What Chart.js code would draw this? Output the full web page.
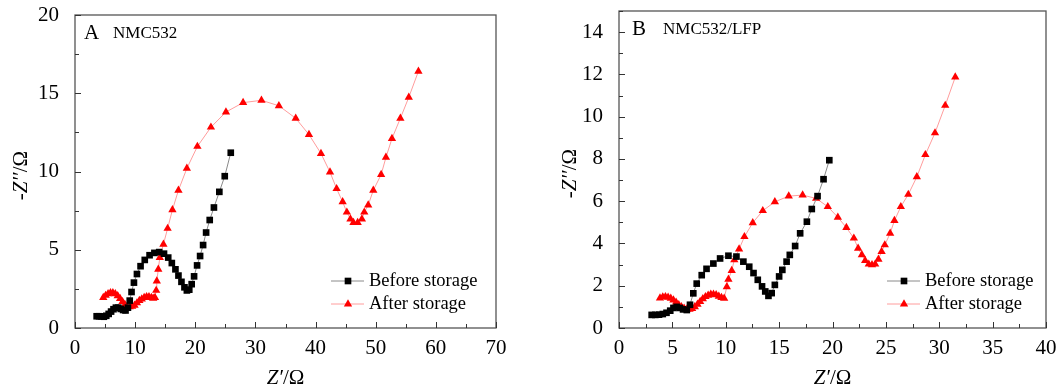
<!DOCTYPE html>
<html>
<head>
<meta charset="utf-8">
<script src="https://cdn.jsdelivr.net/npm/chart.js@4.4.0/dist/chart.umd.min.js"></script>
<style>
  body { margin: 0; background: #fff; }
  #wrap { position: relative; width: 1062px; height: 389px; }
  .box { position: absolute; top: 0; height: 389px; }
</style>
</head>
<body>
<div id="wrap">
  <div class="box" style="left:0;width:520px"><canvas id="chartA"></canvas></div>
  <div class="box" style="left:540px;width:522px"><canvas id="chartB"></canvas></div>
</div>
<script>
// Panel A: NMC532
const beforeX_A = [3.6, 4.0, 4.4, 4.8, 5.2, 5.6, 6.0, 6.4, 6.8, 7.2, 7.6, 8.0, 8.4, 8.8, 9.1, 9.4, 9.8, 10.3, 10.9, 11.6, 12.4, 13.2, 14.0, 14.8, 15.5, 16.1, 16.7, 17.2, 17.7, 18.2, 18.6, 19.0, 19.4, 19.8, 20.3, 20.8, 21.3, 21.8, 22.4, 23.1, 24.0, 24.9, 25.9];
const beforeY_A = [0.75, 0.75, 0.74, 0.72, 0.78, 0.9, 1.05, 1.2, 1.3, 1.3, 1.22, 1.15, 1.12, 1.3, 1.75, 2.3, 2.9, 3.45, 3.95, 4.35, 4.65, 4.8, 4.85, 4.75, 4.5, 4.15, 3.75, 3.35, 2.95, 2.6, 2.4, 2.45, 2.8, 3.3, 4.0, 4.6, 5.3, 6.1, 6.9, 7.7, 8.7, 9.7, 11.2];
const afterX_A = [4.7, 5.1, 5.5, 5.9, 6.3, 6.7, 7.1, 7.5, 7.9, 8.3, 8.7, 9.1, 9.5, 9.9, 10.3, 10.7, 11.1, 11.5, 11.9, 12.3, 12.7, 13.0, 13.3, 13.5, 13.6, 13.85, 14.1, 14.7, 15.4, 16.2, 17.2, 18.6, 20.35, 22.6, 25.1, 27.95, 31.0, 33.9, 36.7, 38.9, 40.9, 42.4, 43.5, 44.5, 45.2, 45.8, 46.3, 47.0, 47.7, 48.1, 48.75, 49.6, 50.9, 51.7, 52.7, 54.1, 55.5, 57.1];
const afterY_A = [1.95, 2.08, 2.18, 2.25, 2.25, 2.18, 2.05, 1.88, 1.68, 1.5, 1.4, 1.35, 1.38, 1.45, 1.6, 1.75, 1.85, 1.95, 2.0, 2.0, 1.95, 1.9, 1.95, 2.4, 3.0, 3.75, 4.5, 5.35, 6.36, 7.55, 8.8, 10.2, 11.6, 12.83, 13.8, 14.4, 14.55, 14.2, 13.4, 12.36, 11.15, 9.96, 8.9, 8.06, 7.4, 6.96, 6.74, 6.74, 6.96, 7.4, 7.85, 8.8, 9.8, 10.9, 12.1, 13.4, 14.74, 16.4];

// Panel B: NMC532/LFP
const beforeX_B = [3.06, 3.4, 3.75, 4.1, 4.45, 4.8, 5.1, 5.4, 5.7, 6.0, 6.35, 6.65, 6.96, 7.28, 7.75, 8.2, 8.84, 9.47, 10.25, 11.0, 11.65, 12.2, 12.6, 13.0, 13.4, 13.7, 14.0, 14.3, 14.6, 15.0, 15.3, 15.7, 16.0, 16.5, 16.97, 17.6, 18.06, 18.6, 19.16, 19.7];
const beforeY_B = [0.62, 0.62, 0.63, 0.66, 0.72, 0.82, 0.95, 1.0, 0.95, 0.88, 0.85, 1.1, 1.64, 2.1, 2.5, 2.8, 3.05, 3.29, 3.42, 3.38, 3.14, 2.9, 2.6, 2.28, 1.97, 1.73, 1.52, 1.65, 2.04, 2.44, 2.75, 3.14, 3.46, 3.88, 4.48, 5.03, 5.63, 6.24, 7.04, 7.94];
const afterX_B = [3.84, 4.1, 4.35, 4.6, 4.85, 5.1, 5.35, 5.6, 5.85, 6.1, 6.35, 6.6, 6.85, 7.1, 7.35, 7.6, 7.85, 8.1, 8.35, 8.6, 8.85, 9.1, 9.35, 9.6, 9.85, 10.1, 10.25, 10.56, 10.8, 11.25, 11.75, 12.53, 13.47, 14.6, 15.9, 17.2, 18.47, 19.56, 20.5, 21.3, 22.0, 22.4, 22.75, 23.06, 23.4, 23.7, 24.0, 24.3, 24.6, 24.9, 25.4, 25.8, 26.4, 27.1, 27.9, 28.7, 29.6, 30.56, 31.5];
const afterY_B = [1.42, 1.47, 1.48, 1.45, 1.4, 1.32, 1.22, 1.1, 1.0, 0.93, 0.88, 0.88, 0.92, 1.0, 1.12, 1.25, 1.38, 1.48, 1.55, 1.59, 1.59, 1.57, 1.5, 1.44, 1.4, 1.95, 2.3, 2.72, 3.22, 3.73, 4.32, 4.98, 5.55, 5.97, 6.24, 6.29, 6.13, 5.74, 5.24, 4.75, 4.25, 3.77, 3.46, 3.19, 3.02, 2.99, 3.02, 3.25, 3.62, 3.93, 4.48, 5.08, 5.74, 6.32, 7.15, 8.2, 9.23, 10.53, 11.87];

const seriesNames = ['Before storage', 'After storage'];
const FONT = "'Liberation Serif', 'Times New Roman', serif";

function pts(xs, ys) {
  return xs.map((x, i) => ({ x: x, y: ys[i] }));
}

// frame, inward ticks, axis titles, legend and panel label
const decor = {
  id: 'decor',
  afterDraw(chart, args, o) {
    const ctx = chart.ctx;
    const a = chart.chartArea;
    const sx = chart.scales.x, sy = chart.scales.y;
    ctx.save();
    ctx.strokeStyle = '#555';
    ctx.lineWidth = 1.3;
    ctx.strokeRect(a.left, a.top, a.right - a.left, a.bottom - a.top);

    ctx.lineWidth = 1;
    ctx.strokeStyle = '#333';
    ctx.beginPath();
    sx.ticks.forEach(t => {
      const px = Math.round(sx.getPixelForValue(t.value)) + 0.5;
      const len = t.value % o.xMajor === 0 ? 6 : 4;
      ctx.moveTo(px, a.bottom); ctx.lineTo(px, a.bottom - len);
    });
    sy.ticks.forEach(t => {
      const py = Math.round(sy.getPixelForValue(t.value)) + 0.5;
      const len = t.value % o.yMajor === 0 ? 6 : 4;
      ctx.moveTo(a.left, py); ctx.lineTo(a.left + len, py);
    });
    ctx.stroke();

    // axis titles with italic Z
    ctx.fillStyle = '#000';
    ctx.textBaseline = 'middle';
    function mixed(parts, cx, cy) {
      let w = 0;
      parts.forEach(p => { ctx.font = p[1] + ' 21px ' + FONT; w += ctx.measureText(p[0]).width; });
      let x = cx - w / 2;
      ctx.textAlign = 'left';
      parts.forEach(p => {
        ctx.font = p[1] + ' 21px ' + FONT;
        ctx.fillText(p[0], x, cy);
        x += ctx.measureText(p[0]).width;
      });
    }
    mixed([['Z\u2032', 'italic'], ['/\u03A9', 'normal']], (a.left + a.right) / 2, 378);
    ctx.save();
    ctx.translate(o.yTitleX, (a.top + a.bottom) / 2 + 4);
    ctx.rotate(-Math.PI / 2);
    mixed([['-', 'normal'], ['Z\u2032\u2032', 'italic'], ['/\u03A9', 'normal']], 0, 0);
    ctx.restore();

    // panel label
    ctx.textAlign = 'left';
    ctx.font = '21px ' + FONT;
    ctx.fillText(o.letter, a.left + o.letterDx, a.top + 18);
    ctx.font = '17px ' + FONT;
    ctx.fillText(o.name, a.left + o.nameDx, a.top + 19);

    // legend
    chart.data.datasets.forEach((ds, i) => {
      const y = a.bottom - 47 + i * 23;
      const x0 = a.right - o.legendDx;
      ctx.strokeStyle = ds.borderColor;
      ctx.lineWidth = 1;
      ctx.beginPath();
      ctx.moveTo(x0, y); ctx.lineTo(x0 + 33, y);
      ctx.stroke();
      ctx.fillStyle = ds.pointBackgroundColor;
      Chart.helpers.drawPoint(ctx, { pointStyle: ds.pointStyle, radius: ds.pointRadius, rotation: 0, borderWidth: 0 }, x0 + 17, y);
      ctx.fillStyle = '#000';
      ctx.font = '18.5px ' + FONT;
      ctx.fillText(ds.label, x0 + 38, y);
    });
    ctx.restore();
  }
};

function makeChart(id, before, after, axes, deco) {
  new Chart(document.getElementById(id), {
    type: 'scatter',
    data: {
      datasets: [{
        label: seriesNames[0],
        data: before,
        showLine: true,
        borderColor: '#8a8a8a',
        borderWidth: 1,
        pointStyle: 'rect',
        pointRadius: 4.7,
        pointBackgroundColor: '#000',
        pointBorderWidth: 0
      }, {
        label: seriesNames[1],
        data: after,
        showLine: true,
        borderColor: '#ff9c9c',
        borderWidth: 1,
        pointStyle: 'triangle',
        pointRadius: 4.8,
        pointBackgroundColor: '#ff0000',
        pointBorderWidth: 0
      }]
    },
    options: {
      responsive: true,
      maintainAspectRatio: false,
      animation: false,
      events: [],
      layout: { padding: { top: axes.padTop, right: axes.padRight, left: 0, bottom: 0 } },
      plugins: { legend: { display: false }, tooltip: { enabled: false }, decor: deco },
      scales: {
        x: {
          type: 'linear',
          min: 0, max: axes.xMax,
          grid: { display: false },
          border: { display: false },
          afterFit: s => { s.height = 61; s.paddingLeft = 0; s.paddingRight = 0; },
          ticks: {
            stepSize: axes.xStep, autoSkip: false, maxRotation: 0, padding: 0,
            color: '#000', font: { family: FONT, size: 21 },
            callback: v => (v % deco.xMajor === 0 ? v : '')
          }
        },
        y: {
          min: 0, max: axes.yMax,
          grid: { display: false },
          border: { display: false },
          afterFit: s => { s.width = axes.yWidth; s.paddingTop = 0; s.paddingBottom = 0; },
          ticks: {
            stepSize: axes.yStep, autoSkip: false, padding: 8,
            color: '#000', font: { family: FONT, size: 21 },
            callback: v => (v % deco.yMajor === 0 ? v : '')
          }
        }
      }
    },
    plugins: [decor]
  });
}

makeChart('chartA', pts(beforeX_A, beforeY_A), pts(afterX_A, afterY_A),
  { xMax: 70, xStep: 5, yMax: 20, yStep: 2.5, yWidth: 75, padTop: 15, padRight: 24 },
  { xMajor: 10, yMajor: 5, yTitleX: 21, letter: 'A', letterDx: 9, name: 'NMC532', nameDx: 38, legendDx: 165 });

makeChart('chartB', pts(beforeX_B, beforeY_B), pts(afterX_B, afterY_B),
  { xMax: 40, xStep: 2.5, yMax: 15, yStep: 1, yWidth: 79, padTop: 11, padRight: 16 },
  { xMajor: 5, yMajor: 2, yTitleX: 30, letter: 'B', letterDx: 13, name: 'NMC532/LFP', nameDx: 44, legendDx: 159 });
</script>
</body>
</html>
